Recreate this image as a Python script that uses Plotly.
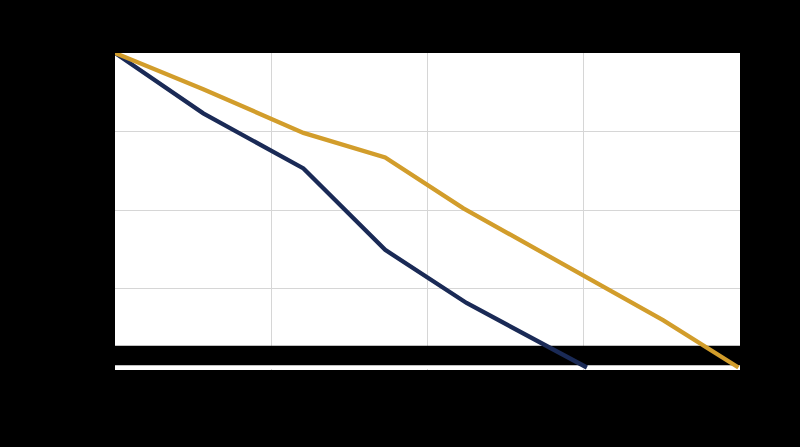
import plotly.graph_objects as go

# x positions (e.g. weeks) and remaining values (%)
weeks_navy = [0, 5.65, 12.06, 17.29, 22.5, 30.2]
remaining_navy = [100, 80.8, 63.3, 37.4, 20.5, 0]

weeks_gold = [0, 5.65, 12.06, 17.29, 22.3, 35.1, 39.9]
remaining_gold = [100, 88.5, 74.6, 66.8, 50.6, 15.0, 0]

x_ticks = [0, 10, 20, 30, 40]
y_ticks = [0, 25, 50, 75, 100]

band_low, band_high = 0.75, 6.9
x_min, x_max = 0, 40

NAVY = "#1a2a56"
GOLD = "#d29d2b"

fig = go.Figure()
# dark band near the baseline (above grid, below the lines)
fig.add_trace(go.Scatter(x=[x_min, x_max, x_max, x_min], y=[band_low, band_low, band_high, band_high],
                         fill="toself", fillcolor="black", mode="lines",
                         line=dict(width=0, color="black"), hoverinfo="skip", name="band"))
fig.add_trace(go.Scatter(x=weeks_navy, y=remaining_navy, mode="lines",
                         line=dict(color=NAVY, width=4.3), name="Actual"))
fig.add_trace(go.Scatter(x=weeks_gold, y=remaining_gold, mode="lines",
                         line=dict(color=GOLD, width=4.3), name="Plan"))

fig.update_layout(
    width=800, height=447,
    paper_bgcolor="black", plot_bgcolor="white",
    margin=dict(l=115, r=60, t=53, b=77),
    showlegend=False,
    font=dict(family="Liberation Sans", color="black", size=12),
)
fig.update_xaxes(range=[x_min, x_max], tickvals=x_ticks, showgrid=True, gridcolor="#d6d6d6",
                 gridwidth=1, zeroline=False, showline=False,
                 tickfont=dict(color="black"))
fig.update_yaxes(range=[-0.8, 100], tickvals=y_ticks, showgrid=True, gridcolor="#d6d6d6",
                 gridwidth=1, zeroline=True, zerolinecolor="white", zerolinewidth=4,
                 showline=False, tickfont=dict(color="black"))

fig.write_html(
    "out.html",
    config={"displayModeBar": False},
    post_script="document.body.style.margin='0px';"
                "document.body.style.background='black';"
                "document.body.style.overflow='hidden';",
)
